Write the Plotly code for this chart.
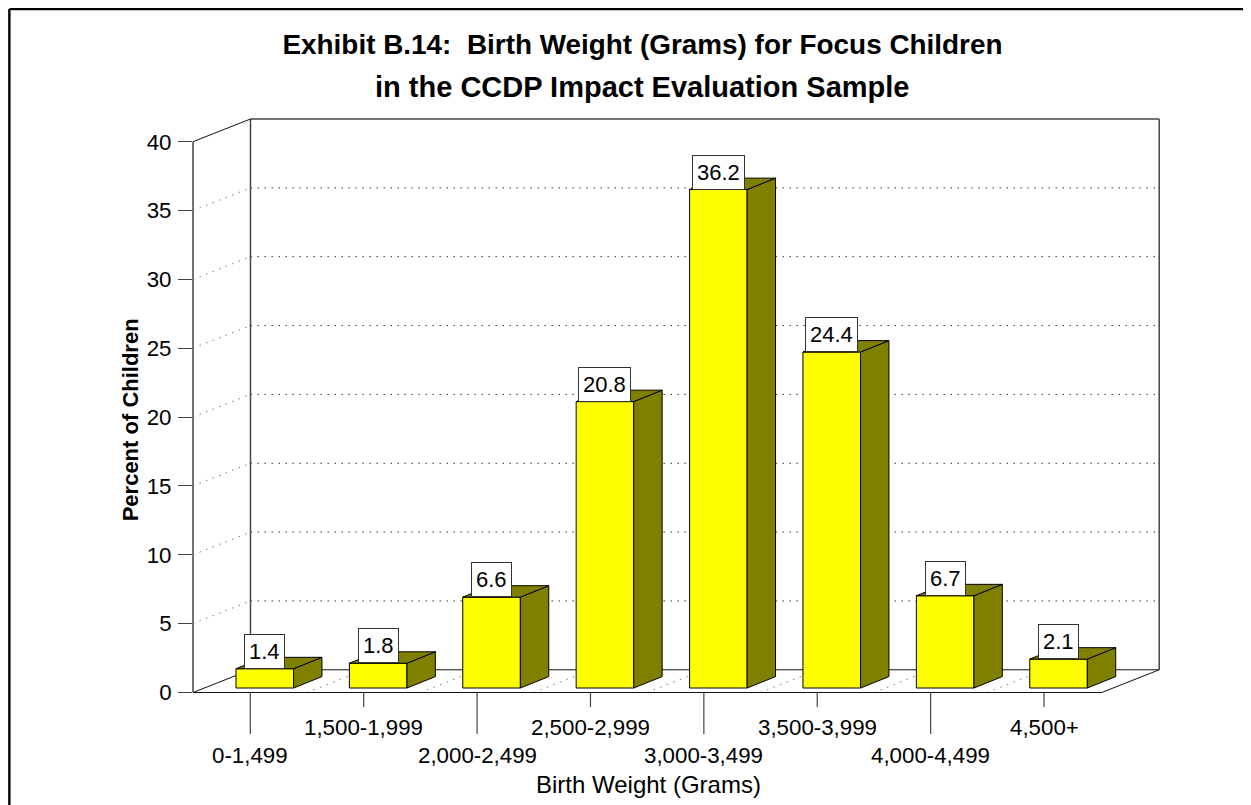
import plotly.graph_objects as go

categories = ["0-1,499", "1,500-1,999", "2,000-2,499", "2,500-2,999",
              "3,000-3,499", "3,500-3,999", "4,000-4,499", "4,500+"]
percent = [1.4, 1.8, 6.6, 20.8, 36.2, 24.4, 6.7, 2.1]
y_ticks = [0, 5, 10, 15, 20, 25, 30, 35, 40]

title_line_1 = "Exhibit B.14:  Birth Weight (Grams) for Focus Children"
title_line_2 = "in the CCDP Impact Evaluation Sample"
x_title = "Birth Weight (Grams)"
y_title = "Percent of Children"

FONT = "Liberation Sans, Arial, sans-serif"
INK = "#111111"
AXIS = "#444444"

# page geometry (the page body adds an 8px margin round the figure)
W, H = 1243, 797
PAD = 8
px_x0, px_step = 250.0, 113.43      # page x of first category, px per category
px_y0, px_unit = 692.5, 13.77       # page y of 0 %, px per percent
plot_l, plot_r, plot_t, plot_b = 192.7, 1175.0, 110.0, 772.0

xr = [(plot_l - px_x0) / px_step, (plot_r - px_x0) / px_step]
yr = [(px_y0 - plot_b) / px_unit, (px_y0 - plot_t) / px_unit]
m_l, m_r, m_t, m_b = plot_l - PAD, W + PAD - plot_r, plot_t - PAD, H + PAD - plot_b

# oblique depth of the chart box and of the bars, in axis units
DX, DY = 57.5 / px_step, 22.7 / px_unit
BAR_DX, BAR_DY = 28.4 / px_step, 11.4 / px_unit
BAR_W = 57.6 / px_step
BAR_OFF = 14.5 / px_step
BAR_BASE = 4.5 / px_unit
N = len(categories)
X_FRONT_L = xr[0]
X_FRONT_R = (1101.7 - px_x0) / px_step
TOP = 40.0


def px(page_x):
    return (page_x - plot_l) / (plot_r - plot_l)


def py(page_y):
    return (plot_b - page_y) / (plot_b - plot_t)


shapes = []


def seg(x0, y0, x1, y1, color=INK, width=1, dash="solid", xref="x", yref="y", layer="below"):
    shapes.append(dict(type="line", x0=x0, y0=y0, x1=x1, y1=y1, xref=xref, yref=yref,
                       layer=layer, line=dict(color=color, width=width, dash=dash)))


DOT = "1.5px,5.5px"
# dotted grid on back wall and side wall
for v in y_ticks[1:-1]:
    seg(X_FRONT_L + DX, v + DY, X_FRONT_R + DX, v + DY, "#333333", 1, DOT)
    seg(X_FRONT_L, v, X_FRONT_L + DX, v + DY, "#777777", 1, DOT)
# dotted floor lines between categories
for i in range(N - 1):
    seg(i + 0.5, 0, i + 0.5 + DX, DY, "#777777", 1, DOT)
# box
seg(X_FRONT_L + DX, DY, X_FRONT_L + DX, TOP + DY, AXIS, 1.5)
seg(X_FRONT_R + DX, DY, X_FRONT_R + DX, TOP + DY, AXIS, 1.5)
seg(X_FRONT_L + DX, TOP + DY, X_FRONT_R + DX, TOP + DY, AXIS, 1.5)
seg(X_FRONT_L, TOP, X_FRONT_L + DX, TOP + DY)
seg(X_FRONT_L + DX, DY, X_FRONT_R + DX, DY)
seg(X_FRONT_L, 0, X_FRONT_L + DX, DY)
seg(X_FRONT_R, 0, X_FRONT_R + DX, DY)
seg(X_FRONT_L, 0, X_FRONT_R, 0)
seg(0, 0, 0, 40, AXIS, 1.5, xref="paper")
# staggered category ticks
for i in range(N):
    end = 734 if i % 2 == 0 else 707
    seg(i, 0, i, (px_y0 - end) / px_unit, AXIS, 1.2)
# outer frame
seg(px(PAD + 1), py(PAD + 1), px(PAD + W), py(PAD + 1), "#000000", 2.4, xref="paper", yref="paper", layer="above")
seg(px(PAD + 1), py(PAD + 1), px(PAD + 1), py(PAD + H), "#000000", 2.4, xref="paper", yref="paper", layer="above")

centers = [i + BAR_OFF for i in range(N)]
tops = [BAR_BASE + v for v in percent]

sx, sy, tx, ty = [], [], [], []
for c, t in zip(centers, tops):
    l, r = c - BAR_W / 2, c + BAR_W / 2
    sx += [r, r + BAR_DX, r + BAR_DX, r, r, None]
    sy += [BAR_BASE, BAR_BASE + BAR_DY, t + BAR_DY, t, BAR_BASE, None]
    tx += [l, r, r + BAR_DX, l + BAR_DX, l, None]
    ty += [t, t, t + BAR_DY, t + BAR_DY, t, None]

fig = go.Figure()
fig.add_trace(go.Bar(x=centers, y=percent, base=BAR_BASE, width=BAR_W, customdata=categories,
                     marker=dict(color="#ffff00", line=dict(color="#000000", width=1)),
                     hovertemplate="%{customdata}: %{y}%<extra></extra>"))
for xs, ys in ((sx, sy), (tx, ty)):
    fig.add_trace(go.Scatter(x=xs, y=ys, mode="lines", fill="toself", fillcolor="#808000",
                             line=dict(color="#000000", width=1), hoverinfo="skip"))

annotations = []
for c, t, v in zip(centers, tops, percent):
    annotations.append(dict(x=c, y=t, text=f"{v:.1f}", showarrow=False, yanchor="bottom",
                            xanchor="center", bgcolor="#ffffff", bordercolor="#333333",
                            borderwidth=1, borderpad=4, font=dict(family=FONT, size=22, color="#000000")))
for i, cat in enumerate(categories):
    ly = 755.5 if i % 2 == 0 else 727.5
    annotations.append(dict(x=i, y=(px_y0 - ly) / px_unit, text=cat, showarrow=False,
                            xanchor="center", yanchor="middle",
                            font=dict(family=FONT, size=22.3, color="#000000")))
annotations.append(dict(xref="paper", yref="paper", x=px(648), y=py(785), text=x_title, showarrow=False,
                        font=dict(family=FONT, size=24, color="#000000"), yanchor="middle"))
annotations.append(dict(xref="paper", yref="paper", x=px(130), y=py(420), text=f"<b>{y_title}</b>",
                        showarrow=False, textangle=-90, xanchor="center", yanchor="middle",
                        font=dict(family=FONT, size=22, color="#000000")))
annotations.append(dict(xref="paper", yref="paper", x=px(642), y=py(87), text=f"<b>{title_line_2}</b>",
                        showarrow=False, xanchor="center", yanchor="middle",
                        font=dict(family=FONT, size=29, color="#000000")))

fig.update_layout(
    width=W, height=H, autosize=False,
    margin=dict(l=m_l, r=m_r, t=m_t, b=m_b, pad=0),
    paper_bgcolor="#ffffff", plot_bgcolor="#ffffff", showlegend=False,
    title=dict(text=f"<b>{title_line_1}</b>", x=(642.5 - PAD) / W, xanchor="center", xref="container",
               y=1 - (44 - PAD) / H, yanchor="middle", yref="container",
               font=dict(family=FONT, size=27.9, color="#000000")),
    xaxis=dict(range=xr, visible=False, fixedrange=True),
    yaxis=dict(range=yr, tickmode="array", tickvals=y_ticks, ticks="outside", ticklen=14, tickwidth=1.2,
               ticklabelstandoff=2,
               tickcolor=AXIS, showgrid=False, zeroline=False, showline=False, fixedrange=True,
               tickfont=dict(family=FONT, size=22.3, color="#000000")),
    shapes=shapes, annotations=annotations,
)
fig.write_html("out.html")
